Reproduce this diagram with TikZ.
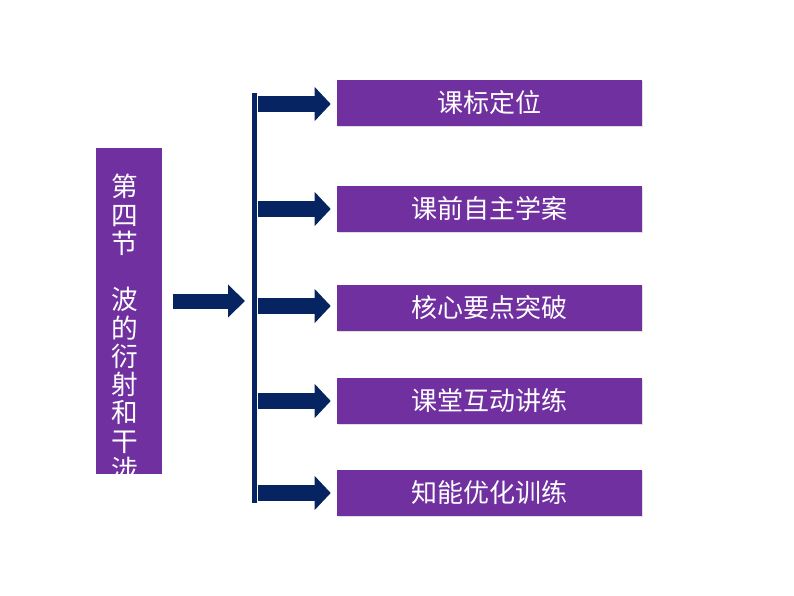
\documentclass[tikz,border=0pt]{standalone}
\usepackage{fontspec}
\newfontfamily\cjk{Noto Sans CJK SC}
\usetikzlibrary{arrows.meta,shadows}
\definecolor{boxpurple}{HTML}{7030A0}
\definecolor{navy}{HTML}{062462}
\tikzset{
  x=0.75pt, y=-0.75pt,
  itembox/.style={fill=boxpurple, draw=none, minimum width=305*0.75pt, minimum height=46*0.75pt,
    text=white, font=\cjk\fontsize{19.5pt}{21pt}\selectfont, inner sep=0pt,
    drop shadow={shadow xshift=1pt, shadow yshift=-1pt, opacity=0.25, fill=gray}},
  blockarrow/.style={draw=navy, line width=16*0.75pt,
    -{Triangle[length=16*0.75pt, width=33*0.75pt, fill=navy]}},
}
\begin{document}
\begin{tikzpicture}
\useasboundingbox (0,0) rectangle (794,596);
% left title box
\node[fill=boxpurple, minimum width=66*0.75pt, minimum height=326*0.75pt, inner sep=0pt,
  anchor=north west] (lb) at (96,148) {};
\node[text=white, font=\cjk\fontsize{20pt}{21.2pt}\selectfont, align=center, inner sep=0pt,
  anchor=north] (lt) at (125,174) {第\\四\\节\\\mbox{}\\波\\的\\衍\\射\\和\\干\\涉};
% vertical bar
\node[fill=navy, minimum width=5*0.75pt, minimum height=410*0.75pt, inner sep=0pt,
  anchor=north west] (bar) at (252,93) {};
% item boxes
\node[itembox] (b1) at (489.5,103) {课标定位};
\node[itembox] (b2) at (489.5,209) {课前自主学案};
\node[itembox] (b3) at (489.5,308) {核心要点突破};
\node[itembox] (b4) at (489.5,401) {课堂互动讲练};
\node[itembox] (b5) at (489.5,493) {知能优化训练};
% arrows
\foreach \i/\yy in {1/104,2/209,3/306,4/401,5/493}{
  \draw[blockarrow, shorten >=6*0.75pt] (bar.east |- 0,\yy) -- (b\i.west |- 0,\yy);
}
\draw[draw=navy, line width=15*0.75pt,
  -{Triangle[length=17*0.75pt, width=32*0.75pt, fill=navy]},
  shorten <=10*0.75pt, shorten >=7*0.75pt] (lb.east |- 0,301) -- (bar.west |- 0,301);
\end{tikzpicture}
\end{document}
